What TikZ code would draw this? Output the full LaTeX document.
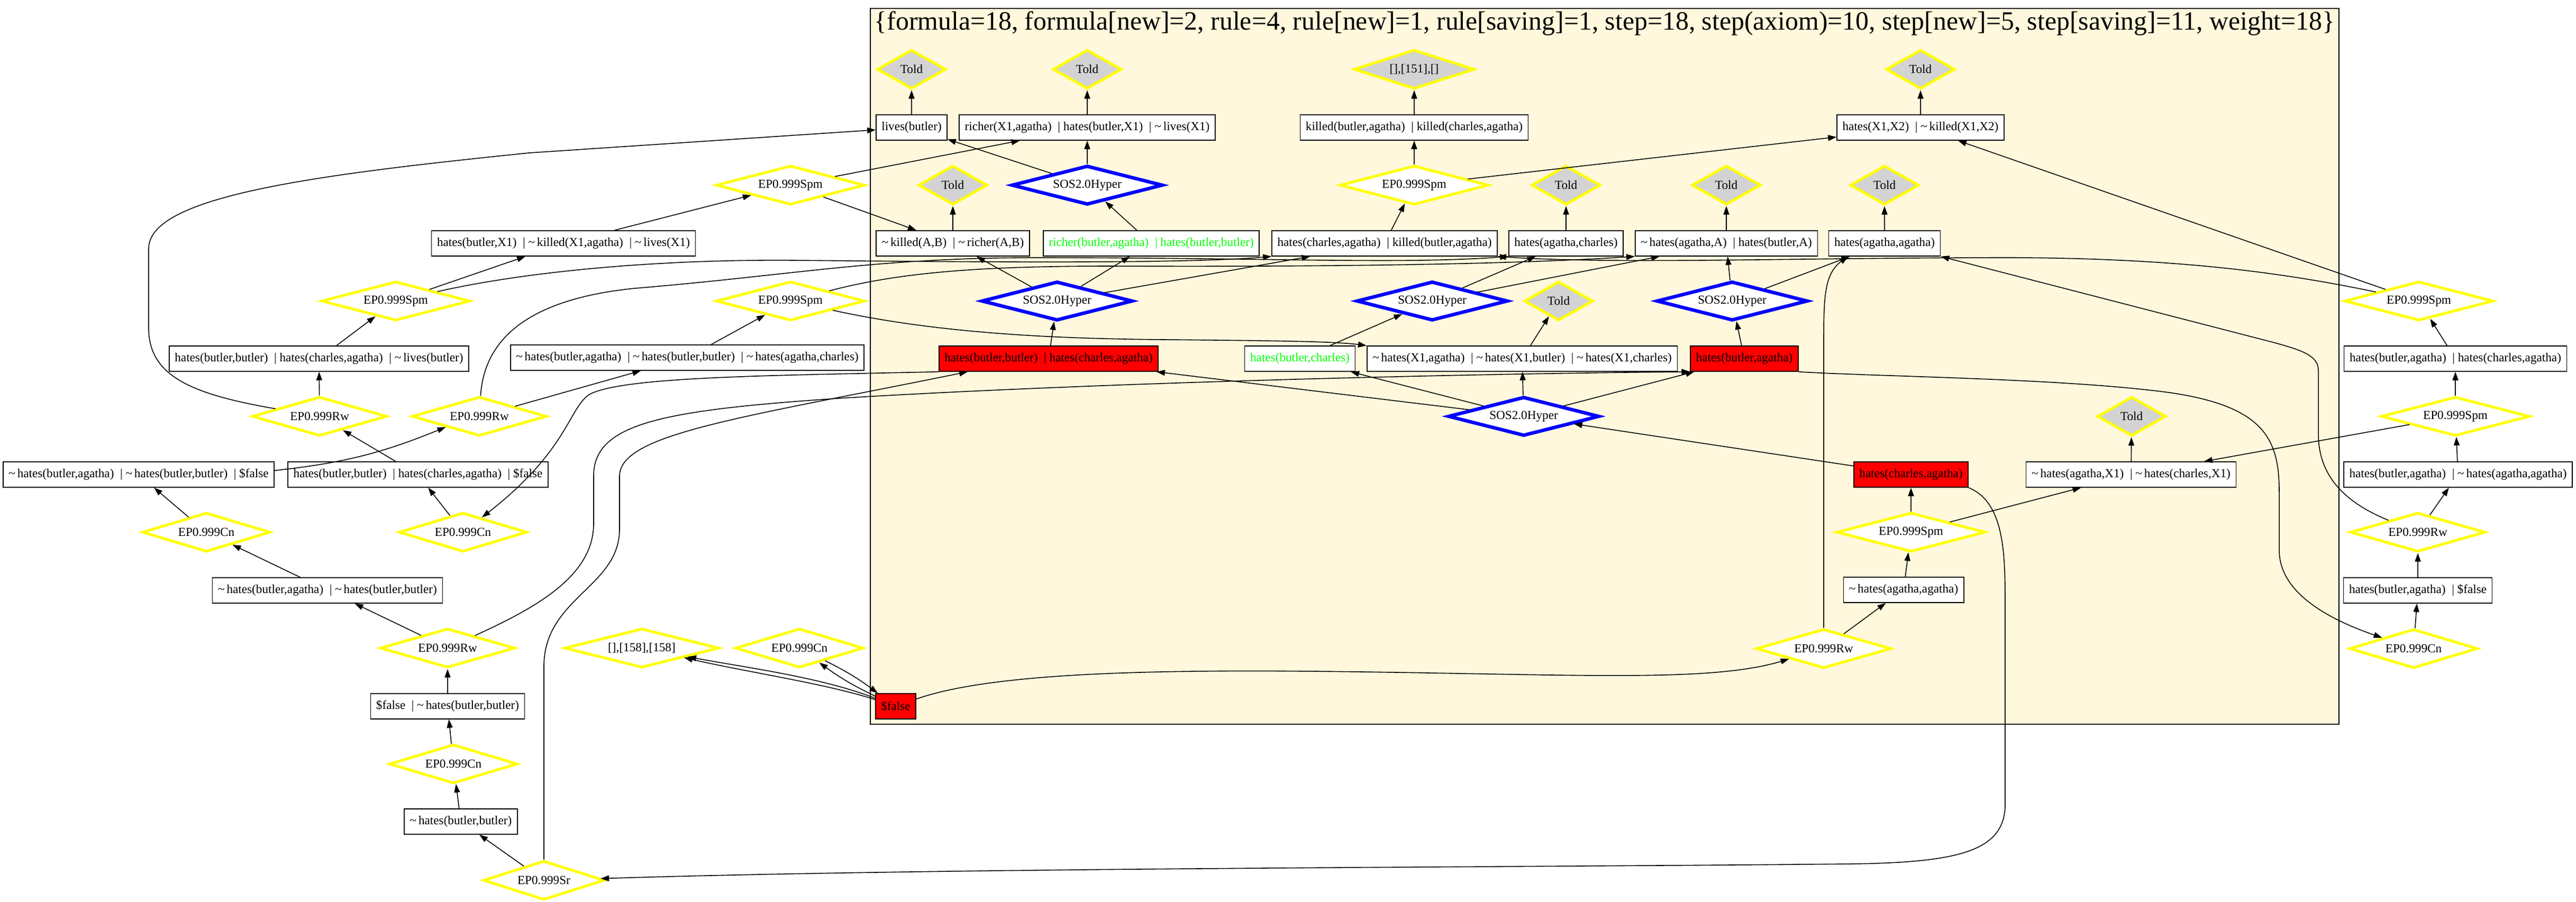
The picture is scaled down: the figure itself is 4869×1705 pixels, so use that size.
\documentclass[tikz,border=0pt]{standalone}
\usepackage{fontspec}
\setmainfont{Liberation Serif}
\usepackage{xcolor}
\usetikzlibrary{shapes.geometric, arrows.meta}

\definecolor{clusterbg}{RGB}{255,248,220}
\definecolor{toldgray}{RGB}{211,211,211}
\definecolor{epyellow}{RGB}{255,255,0}
\definecolor{sosblue}{RGB}{0,0,255}
\definecolor{newgreen}{RGB}{0,255,0}

\newcommand{\clneg}{\textasciitilde\,}
\newcommand{\clsep}{\ \ |\ }

\tikzset{
  clause/.style={rectangle, draw, line width=1.5pt, fill=white, minimum height=48pt, inner xsep=10.5pt, inner ysep=0pt, font=\fontsize{23.2}{27}\selectfont},
  redclause/.style={clause, fill=red},
  greenclause/.style={clause, text=newgreen},
  epdia/.style={diamond, draw=epyellow, line width=5pt, fill=white, aspect=3.5, inner sep=0pt, minimum height=74pt, minimum width=#1, font=\fontsize{23.2}{27}\selectfont},
  epdia/.default=281pt,
  tolddia/.style={epdia=#1, fill=toldgray, aspect=1.8},
  tolddia/.default=130pt,
  sosdia/.style={epdia=#1, draw=sosblue, line width=6.5pt},
  sosdia/.default=286pt,
  link/.style={line width=1.6pt, -{Triangle[length=16pt,width=11pt]}}
}

\begin{document}
\begin{tikzpicture}[x=1pt,y=-1pt]
  \useasboundingbox (0,0) rectangle (4869,1705);

  % Draw cluster
  \draw[fill=clusterbg, line width=2pt] (1645,16) rectangle (4421,1369);
  \node[font=\fontsize{49.8}{58}\selectfont] (title) at (3033,44) {\{formula=18, formula[new]=2, rule=4, rule[new]=1, rule[saving]=1, step=18, step(axiom)=10, step[new]=5, step[saving]=11, weight=18\}};

  % Told nodes
  \node[tolddia] (told1) at (1723,131) {Told};
  \node[tolddia] (told3) at (2055,131) {Told};
  \node[tolddia=228pt, aspect=3] (par151) at (2673,131) {[],[151],[]};
  \node[tolddia] (told6) at (3630,131) {Told};
  \node[tolddia] (told2) at (1801,350) {Told};
  \node[tolddia] (told4) at (2960,350) {Told};
  \node[tolddia] (told7) at (3263,350) {Told};
  \node[tolddia] (told8) at (3562,350) {Told};
  \node[tolddia] (told5) at (2946,569) {Told};
  \node[tolddia] (told9) at (4029,787) {Told};

  % Clauses
  \node[clause] (lives) at (1723,241) {lives(butler)};
  \node[clause] (richX) at (2055,241) {richer(X1,agatha)\clsep hates(butler,X1)\clsep\clneg lives(X1)};
  \node[clause] (killed) at (2673,241) {killed(butler,agatha)\clsep killed(charles,agatha)};
  \node[clause] (hXX) at (3630,241) {hates(X1,X2)\clsep\clneg killed(X1,X2)};
  \node[clause] (hbX) at (1065,460) {hates(butler,X1)\clsep\clneg killed(X1,agatha)\clsep\clneg lives(X1)};
  \node[clause] (nkAB) at (1801,460) {\clneg killed(A,B)\clsep\clneg richer(A,B)};
  \node[greenclause] (rbhbb) at (2176,460) {richer(butler,agatha)\clsep hates(butler,butler)};
  \node[clause] (hcakba) at (2617,460) {hates(charles,agatha)\clsep killed(butler,agatha)};
  \node[clause] (hac) at (2960,460) {hates(agatha,charles)};
  \node[clause] (haA) at (3263,460) {\clneg hates(agatha,A)\clsep hates(butler,A)};
  \node[clause] (haa) at (3562,460) {hates(agatha,agatha)};
  \node[clause] (hbbL) at (603,678) {hates(butler,butler)\clsep hates(charles,agatha)\clsep\clneg lives(butler)};
  \node[clause] (nhba3) at (1299,676) {\clneg hates(butler,agatha)\clsep\clneg hates(butler,butler)\clsep\clneg hates(agatha,charles)};
  \node[redclause] (hbbhca) at (1982,678) {hates(butler,butler)\clsep hates(charles,agatha)};
  \node[greenclause] (hbc) at (2457,678) {hates(butler,charles)};
  \node[clause] (hnX) at (2877,678) {\clneg hates(X1,agatha)\clsep\clneg hates(X1,butler)\clsep\clneg hates(X1,charles)};
  \node[redclause] (hba) at (3297,678) {hates(butler,agatha)};
  \node[clause] (hbahca) at (4641,678) {hates(butler,agatha)\clsep hates(charles,agatha)};
  \node[clause] (nhbaF) at (262,897) {\clneg hates(butler,agatha)\clsep\clneg hates(butler,butler)\clsep\$false};
  \node[clause] (hbbF) at (790,897) {hates(butler,butler)\clsep hates(charles,agatha)\clsep\$false};
  \node[redclause] (hca) at (3612,897) {hates(charles,agatha)};
  \node[clause] (nhaX) at (4028,897) {\clneg hates(agatha,X1)\clsep\clneg hates(charles,X1)};
  \node[clause] (hbanhaa) at (4646,897) {hates(butler,agatha)\clsep\clneg hates(agatha,agatha)};
  \node[clause] (nhbb2) at (619,1116) {\clneg hates(butler,agatha)\clsep\clneg hates(butler,butler)};
  \node[clause] (nhaa) at (3598,1115) {\clneg hates(agatha,agatha)};
  \node[clause] (hbaF) at (4570,1116) {hates(butler,agatha)\clsep\$false};
  \node[clause] (fhbb) at (846,1335) {\$false\clsep\clneg hates(butler,butler)};
  \node[redclause] (fls) at (1693,1335) {\$false};
  \node[clause] (nhbb) at (871,1553) {\clneg hates(butler,butler)};

  % Inference nodes
  \node[epdia] (spmA) at (1494,350) {EP0.999Spm};
  \node[sosdia] (sosA) at (2055,350) {SOS2.0Hyper};
  \node[epdia] (spmM) at (2673,350) {EP0.999Spm};
  \node[epdia] (spmL) at (748,569) {EP0.999Spm};
  \node[epdia] (spmB) at (1494,569) {EP0.999Spm};
  \node[sosdia] (sosB) at (1998,569) {SOS2.0Hyper};
  \node[sosdia] (sosC) at (2707,569) {SOS2.0Hyper};
  \node[sosdia] (sosR) at (3274,569) {SOS2.0Hyper};
  \node[epdia] (spmR1) at (4572,569) {EP0.999Spm};
  \node[epdia=255pt] (rwL1) at (604,787) {EP0.999Rw};
  \node[epdia=255pt] (rwL2) at (906,787) {EP0.999Rw};
  \node[sosdia] (sosD) at (2880,787) {SOS2.0Hyper};
  \node[epdia] (spmR2) at (4641,787) {EP0.999Spm};
  \node[epdia=242pt] (cnL1) at (390,1006) {EP0.999Cn};
  \node[epdia=242pt] (cnL2) at (875,1006) {EP0.999Cn};
  \node[epdia] (spmC) at (3612,1006) {EP0.999Spm};
  \node[epdia=255pt] (rwR) at (4570,1006) {EP0.999Rw};
  \node[epdia=255pt] (rwL3) at (846,1225) {EP0.999Rw};
  \node[epdia=292pt] (par158) at (1213,1225) {[],[158],[158]};
  \node[epdia=242pt] (cnM) at (1511,1225) {EP0.999Cn};
  \node[epdia=255pt] (rwC) at (3447,1226) {EP0.999Rw};
  \node[epdia=242pt] (cnR) at (4562,1226) {EP0.999Cn};
  \node[epdia=242pt] (cnL4) at (857,1444) {EP0.999Cn};
  \node[epdia=229pt] (srL) at (1028,1664) {EP0.999Sr};

  % Links to Told
  \draw[link] (lives) -- (told1);
  \draw[link] (richX) -- (told3);
  \draw[link] (killed) -- (par151);
  \draw[link] (hXX) -- (told6);
  \draw[link] (nkAB) -- (told2);
  \draw[link] (hac) -- (told4);
  \draw[link] (haA) -- (told7);
  \draw[link] (haa) -- (told8);
  \draw[link] (hnX) -- (told5);
  \draw[link] (nhaX) -- (told9);

  % Upper inferences
  \draw[link] (sosA) -- (lives);
  \draw[link] (sosA) -- (richX);
  \draw[link] (rbhbb) -- (sosA);
  \draw[link] (spmA) -- (richX);
  \draw[link] (spmA) -- (nkAB);
  \draw[link] (hbX) -- (spmA);
  \draw[link] (spmM) -- (killed);
  \draw[link] (spmM) -- (hXX);
  \draw[link] (hcakba) -- (spmM);

  % Hyper steps
  \draw[link] (sosB) -- (nkAB);
  \draw[link] (sosB) -- (rbhbb);
  \draw[link] (sosB) -- (hcakba);
  \draw[link] (hbbhca) -- (sosB);
  \draw[link] (sosC) -- (hac);
  \draw[link] (sosC) -- (haA);
  \draw[link] (hbc) -- (sosC);
  \draw[link] (sosR) -- (haA);
  \draw[link] (sosR) -- (haa);
  \draw[link] (hba) -- (sosR);
  \draw[link] (sosD) -- (hbbhca);
  \draw[link] (sosD) -- (hbc);
  \draw[link] (sosD) -- (hnX);
  \draw[link] (sosD) -- (hba);
  \draw[link] (hca) -- (sosD);

  % Lower part of the cluster
  \draw[link] (spmC) -- (hca);
  \draw[link] (spmC) -- (nhaX);
  \draw[link] (nhaa) -- (spmC);
  \draw[link] (rwC) -- (nhaa);
  \draw[link] (rwC) -- (3447,680) .. controls (3447,570) and (3445,520) .. ([xshift=37pt]haa.south west);
  \draw[link] (fls) .. controls (1900,1262) and (2300,1265) .. (2700,1272) .. controls (3050,1278) and (3250,1285) .. (rwC);
  \draw[link] (fls) .. controls (1560,1292) and (1420,1272) .. (par158);
  \draw[link] (fls) .. controls (1552,1280) and (1410,1262) .. (par158);
  \draw[link] (fls) to[bend left=5] (cnM);
  \draw[link] (cnM) to[bend left=5] (fls);

  % Left column
  \draw[link] (spmL) -- (hbX);
  \draw[link] (spmL) .. controls (1000,512) and (1250,490) .. (1500,492) .. controls (1900,496) and (2250,498) .. (hcakba.south west);
  \draw[link] (hbbL) -- (spmL);
  \draw[link] (rwL1) -- (hbbL);
  \draw[link] (rwL1) .. controls (360,745) and (281,710) .. (281,620) -- (281,470) .. controls (281,370) and (600,330) .. (1000,289) -- (lives);
  \draw[link] (hbbF) -- (rwL1);
  \draw[link] (cnL2) -- (hbbF);
  \draw[link] (hbbhca.south west) .. controls (1450,710) and (1180,712) .. (1115,745) .. controls (1075,770) and (1075,850) .. (cnL2);
  \draw[link] (nhbaF) to[bend right=8] (rwL2);
  \draw[link] (rwL2) -- (nhba3);
  \draw[link] (rwL2) .. controls (915,640) and (1000,565) .. (1200,545) .. controls (1500,520) and (1650,488) .. (1950,487) .. controls (2400,487) and (2650,500) .. (hac.south west);
  \draw[link] (nhba3) -- (spmB);
  \draw[link] (spmB) .. controls (1750,625) and (1950,640) .. (2200,642) .. controls (2400,644) and (2520,645) .. (hnX.north west);
  \draw[link] (spmB) .. controls (1700,515) and (1850,503) .. (2100,503) .. controls (2600,505) and (2900,497) .. (haA.south west);
  \draw[link] (cnL1) -- (nhbaF);
  \draw[link] (nhbb2) -- (cnL1);
  \draw[link] (rwL3) -- (nhbb2);
  \draw[link] (rwL3) .. controls (1010,1150) and (1122,1090) .. (1122,990) -- (1122,900) .. controls (1122,800) and (1250,775) .. (1600,752) .. controls (2100,722) and (2800,706) .. (hba.south west);
  \draw[link] (fhbb) -- (rwL3);
  \draw[link] (cnL4) -- (fhbb);
  \draw[link] (nhbb) -- (cnL4);
  \draw[link] (srL) -- (nhbb);
  \draw[link] (srL) -- (1028,1260) .. controls (1028,1130) and (1171,1110) .. (1171,1000) -- (1171,900) .. controls (1171,820) and (1400,790) .. ([xshift=55pt]hbbhca.south west);
  \draw[link] (hca.south east) .. controls (3790,950) and (3790,1050) .. (3790,1150) -- (3790,1520) .. controls (3790,1610) and (3700,1630) .. (3500,1633) .. controls (2800,1640) and (1800,1640) .. (srL);

  % Right column
  \draw[link] (spmR1) -- (hXX);
  \draw[link] (spmR1) .. controls (4300,512) and (4100,488) .. (3800,487) .. controls (3400,487) and (3050,500) .. (hcakba.south east);
  \draw[link] (hbahca) -- (spmR1);
  \draw[link] (spmR2) -- (hbahca);
  \draw[link] (spmR2) -- (nhaX);
  \draw[link] (hbanhaa) -- (spmR2);
  \draw[link] (rwR) -- (hbanhaa);
  \draw[link] (rwR) .. controls (4420,945) and (4382,890) .. (4382,820) -- (4382,700) .. controls (4382,672) and (4350,662) .. (4300,648) -- (haa.south east);
  \draw[link] (hbaF) -- (rwR);
  \draw[link] (cnR) -- (hbaF);
  \draw[link] (hba.south east) .. controls (3550,712) and (3900,715) .. (4100,742) .. controls (4280,768) and (4308,830) .. (4308,930) -- (4308,1040) .. controls (4308,1120) and (4400,1170) .. (cnR);

\end{tikzpicture}
\end{document}
